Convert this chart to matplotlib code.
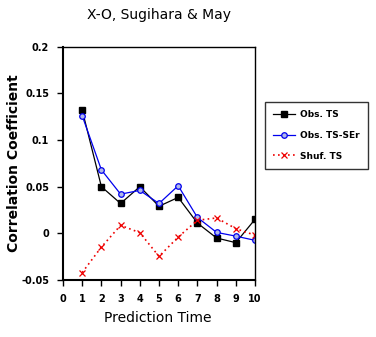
import matplotlib
matplotlib.use("Agg")
import matplotlib.pyplot as plt

x = [1, 2, 3, 4, 5, 6, 7, 8, 9, 10]
obs_ts = [0.132, 0.050, 0.032, 0.050, 0.029, 0.0385, 0.011, -0.005, -0.010, 0.015]
obs_ts_ser = [0.126, 0.068, 0.042, 0.046, 0.032, 0.051, 0.017, 0.001, -0.003, -0.0075]
shuf_ts = [-0.042, -0.0147, 0.0086, 0.0007, -0.0247, -0.004, 0.014, 0.0165, 0.005, -0.002]
xticks = list(range(0, 11))
yticks = [-0.05, 0, 0.05, 0.1, 0.15, 0.2]
ytick_labels = ["-0.05", "0", "0.05", "0.1", "0.15", "0.2"]

fig = plt.figure(figsize=(3.76, 3.37), dpi=100)
ax = fig.add_axes([63/376, 1-280/337, (255-63)/376, (280-46.7)/337])

ax.plot(x, obs_ts, color="black", lw=0.9, marker="s", ms=4, mfc="black", mec="black", label="Obs. TS")
ax.plot(x, obs_ts_ser, color="#0000ee", lw=0.9, marker="o", ms=4, mfc="#b0b8e8", mec="#0000ee", mew=0.9, label="Obs. TS-SEr")
ax.plot(x, shuf_ts, color="#ee0000", lw=1.2, ls=(0, (1, 2)), marker="x", ms=4.5, mec="#ee0000", mew=0.9, label="Shuf. TS")

ax.set_xlim(0, 10)
ax.set_ylim(-0.05, 0.2)
ax.set_xticks(xticks)
ax.set_xticklabels([str(t) for t in xticks], fontsize=7, fontweight="bold")
ax.set_yticks(yticks)
ax.set_yticklabels(ytick_labels, fontsize=7, fontweight="bold")
ax.tick_params(direction="out", length=4, width=1, pad=6)
for s in ax.spines.values():
    s.set_linewidth(1)
ax.spines["bottom"].set_linewidth(1.5)
ax.spines["left"].set_linewidth(1.5)

fig.text(159/376, 1-15/337, "X-O, Sugihara & May", ha="center", va="center", fontsize=10)
fig.text(14/376, 1-163/337, "Correlation Coefficient", rotation=90, ha="center", va="center", fontsize=10, fontweight="bold")
fig.text(158/376, 1-318/337, "Prediction Time", ha="center", va="center", fontsize=10)

leg = fig.legend(loc="upper left", bbox_to_anchor=(265/376, 1-102/337),
                 frameon=True, fancybox=False, edgecolor="black", handlelength=2.4,
                 handletextpad=0.6, borderpad=0.9, borderaxespad=0, labelspacing=1.3,
                 prop={"weight": "bold", "size": 6.5})
leg.get_frame().set_linewidth(1)

fig.savefig("out.png", dpi=100)
